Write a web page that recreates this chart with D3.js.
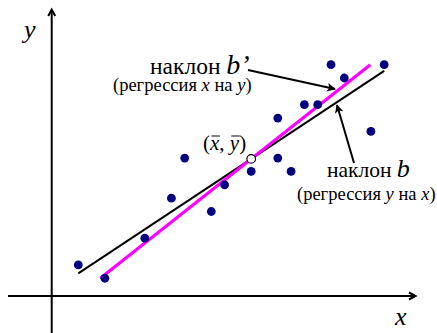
<!DOCTYPE html>
<html>
<head>
<meta charset="utf-8">
<script src="https://cdn.jsdelivr.net/npm/d3@7"></script>
<style>
  html, body { margin: 0; padding: 0; background: #fff; }
  svg { display: block; }
</style>
</head>
<body>
<svg id="chart" width="437" height="333"></svg>
<script>
// Observations (x, y) in plot units
const xs = [2, 4, 7, 9, 10, 12, 13, 15, 17, 17, 18, 19, 20, 21, 22, 24, 25];
const ys = [2, 1, 4, 7, 10, 6, 8, 9, 10, 13, 9, 14, 14, 17, 16, 12, 17];

const W = 437, H = 333;
const SERIF = "'Liberation Serif', 'Times New Roman', 'DejaVu Serif', serif";
const svg = d3.select("#chart");

// Scales: one unit ≈ 13.3 px on both axes
const x = d3.scaleLinear().domain([0, 29]).range([51.7, 51.7 + 13.3 * 29]);
const y = d3.scaleLinear().domain([0, 20]).range([291.6, 291.6 - 13.35 * 20]);

// Axes positions (pixels)
const axisX = x(0);      // vertical axis
const axisY = 296;       // horizontal axis

// Means and least-squares slopes
const n = xs.length;
const mx = d3.mean(xs), my = d3.mean(ys);
let sxx = 0, syy = 0, sxy = 0;
for (let i = 0; i < n; i++) {
  const dx = xs[i] - mx, dy = ys[i] - my;
  sxx += dx * dx; syy += dy * dy; sxy += dx * dy;
}
const b = sxy / sxx;        // regression of y on x
const bPrime = sxy / syy;   // regression of x on y (dx/dy)

// Arrow markers
const defs = svg.append("defs");
defs.append("marker")
  .attr("id", "tri")
  .attr("viewBox", "0 0 10 10")
  .attr("refX", 9).attr("refY", 5)
  .attr("markerWidth", 5).attr("markerHeight", 4.4)
  .attr("markerUnits", "strokeWidth")
  .attr("orient", "auto")
  .append("path").attr("d", "M0,0 L10,5 L0,10 L2.5,5 Z").attr("fill", "#000");

function label(xp, yp, size) {
  return svg.append("text").attr("x", xp).attr("y", yp)
    .attr("font-family", SERIF).attr("font-size", size).attr("fill", "#000");
}

// Coordinate axes
svg.append("line")
  .attr("x1", axisX).attr("y1", H).attr("x2", axisX).attr("y2", 10)
  .attr("stroke", "#000").attr("stroke-width", 2);
svg.append("path")
  .attr("d", `M${axisX - 3.5},${16} L${axisX},${9.5} L${axisX + 3.5},${16}`)
  .attr("fill", "none").attr("stroke", "#000").attr("stroke-width", 2);

svg.append("line")
  .attr("x1", 8).attr("y1", axisY).attr("x2", 415).attr("y2", axisY)
  .attr("stroke", "#000").attr("stroke-width", 2);
svg.append("path")
  .attr("d", `M${409},${axisY - 3.5} L${415.5},${axisY} L${409},${axisY + 3.5}`)
  .attr("fill", "none").attr("stroke", "#000").attr("stroke-width", 2);

label(24, 38, 26).attr("font-style", "italic").text("y");
label(395, 325, 26).attr("font-style", "italic").text("x");

// Regression of y on x, over the range of x
const [xmin, xmax] = d3.extent(xs);
svg.append("line")
  .attr("x1", x(xmin)).attr("y1", y(my + b * (xmin - mx)))
  .attr("x2", x(xmax)).attr("y2", y(my + b * (xmax - mx)))
  .attr("stroke", "#000").attr("stroke-width", 2);

// Regression of x on y, over the range of y
const [ymin, ymax] = d3.extent(ys);
svg.append("line")
  .attr("x1", x(mx + bPrime * (ymin - my))).attr("y1", y(ymin))
  .attr("x2", x(mx + bPrime * (ymax - my))).attr("y2", y(ymax))
  .attr("stroke", "#ff00ff").attr("stroke-width", 3.2);

// Data points
svg.append("g").selectAll("circle")
  .data(d3.zip(xs, ys))
  .join("circle")
  .attr("cx", d => x(d[0]))
  .attr("cy", d => y(d[1]))
  .attr("r", 4.4)
  .attr("fill", "#000080");

// Centroid
svg.append("circle")
  .attr("cx", x(mx)).attr("cy", y(my)).attr("r", 4.3)
  .attr("fill", "#fff").attr("stroke", "#000").attr("stroke-width", 1.2);

// Centroid label (x̄, ȳ)
const cl = label(203, 150, 21);
cl.append("tspan").text("(");
cl.append("tspan").attr("font-style", "italic").text("x");
cl.append("tspan").text(", ");
cl.append("tspan").attr("font-style", "italic").text("y");
cl.append("tspan").text(")");
const clNode = cl.node();
[1, 4].forEach(i => {
  const e = clNode.getExtentOfChar(i);
  svg.append("line")
    .attr("x1", e.x + 1.5).attr("x2", e.x + e.width + 0.5)
    .attr("y1", 136).attr("y2", 136)
    .attr("stroke", "#000").attr("stroke-width", 1);
});

// Slope labels
const t1 = label(150, 74, 23.5);
t1.append("tspan").text("наклон ");
t1.append("tspan").attr("font-style", "italic").attr("font-size", 28).text("b’");
label(113, 91, 18.5).call(t => {
  t.append("tspan").text("(регрессия ");
  t.append("tspan").attr("font-style", "italic").text("x");
  t.append("tspan").text(" на ");
  t.append("tspan").attr("font-style", "italic").text("y");
  t.append("tspan").text(")");
});

const t2 = label(327, 177, 21.5);
t2.append("tspan").text("наклон ");
t2.append("tspan").attr("font-style", "italic").attr("font-size", 26).text("b");
label(297, 200, 18.5).call(t => {
  t.append("tspan").text("(регрессия ");
  t.append("tspan").attr("font-style", "italic").text("y");
  t.append("tspan").text(" на ");
  t.append("tspan").attr("font-style", "italic").text("x");
  t.append("tspan").text(")");
});

// Pointer arrows to the two lines
svg.append("line")
  .attr("x1", 248).attr("y1", 70).attr("x2", 335).attr("y2", 89)
  .attr("stroke", "#000").attr("stroke-width", 2).attr("marker-end", "url(#tri)");
svg.append("line")
  .attr("x1", 354).attr("y1", 163).attr("x2", 337).attr("y2", 105)
  .attr("stroke", "#000").attr("stroke-width", 2).attr("marker-end", "url(#tri)");
</script>
</body>
</html>
